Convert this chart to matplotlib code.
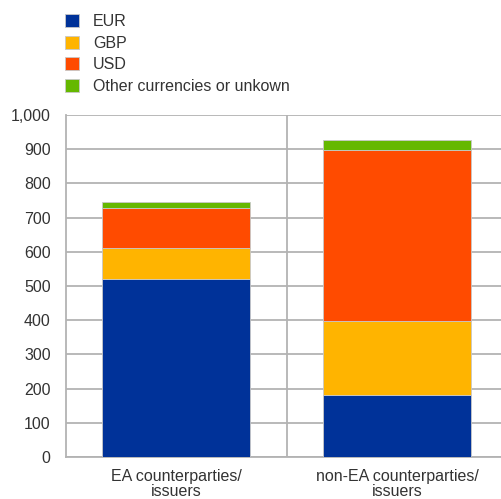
import matplotlib
matplotlib.use("Agg")
import matplotlib.pyplot as plt
import numpy as np

categories = ["EA counterparties/\nissuers", "non-EA counterparties/\nissuers"]
series_names = ["EUR", "GBP", "USD", "Other currencies or unkown"]
eur = [521, 180]
gbp = [91, 218]
usd = [117, 500]
other = [17, 29]
colors = ["#003299", "#FFB400", "#FF4B00", "#65B800"]

plt.rcParams["font.family"] = ["Liberation Sans", "DejaVu Sans"]

fig = plt.figure(figsize=(5.02, 4.99), dpi=100)
ax = fig.add_axes([66 / 502, 1 - 457 / 499, 441.5 / 502, 342 / 499])

x = np.arange(len(categories))
bottom = np.zeros(len(categories))
handles = []
for name, vals, col in zip(series_names, [eur, gbp, usd, other], colors):
    b = ax.bar(x, vals, 0.67, bottom=bottom, color=col, edgecolor="#c8c8c8",
               linewidth=0.6, label=name, zorder=3)
    handles.append(b)
    bottom += np.array(vals)

ax.set_xlim(-0.5, 1.5)
ax.set_ylim(0, 1000)
ax.set_yticks(range(0, 1001, 100))
ax.set_yticklabels([f"{v:,}" for v in range(0, 1001, 100)])
ax.set_xticks(x)
ax.set_xticklabels(categories, linespacing=0.95)
ax.tick_params(length=0, labelsize=11.5, colors="#333333")
ax.tick_params(axis="y", pad=11)
ax.tick_params(axis="x", pad=9)

ax.grid(axis="y", color="#b3b3b3", linewidth=1.3, zorder=0)
ax.axvline(0.5, color="#b3b3b3", linewidth=1.3, zorder=0)
for s in ["top", "right"]:
    ax.spines[s].set_visible(False)
for s in ["left", "bottom"]:
    ax.spines[s].set_color("#b3b3b3")
    ax.spines[s].set_linewidth(1.3)

fig.legend(handles=handles, labels=series_names, loc="upper left",
           bbox_to_anchor=(65 / 502, 1 - 14 / 499), frameon=False,
           borderpad=0, borderaxespad=0, handlelength=0.9, handleheight=0.9,
           handletextpad=0.85, labelspacing=0.4, fontsize=11.5,
           labelcolor="#333333")

fig.savefig("out.png", dpi=100)
